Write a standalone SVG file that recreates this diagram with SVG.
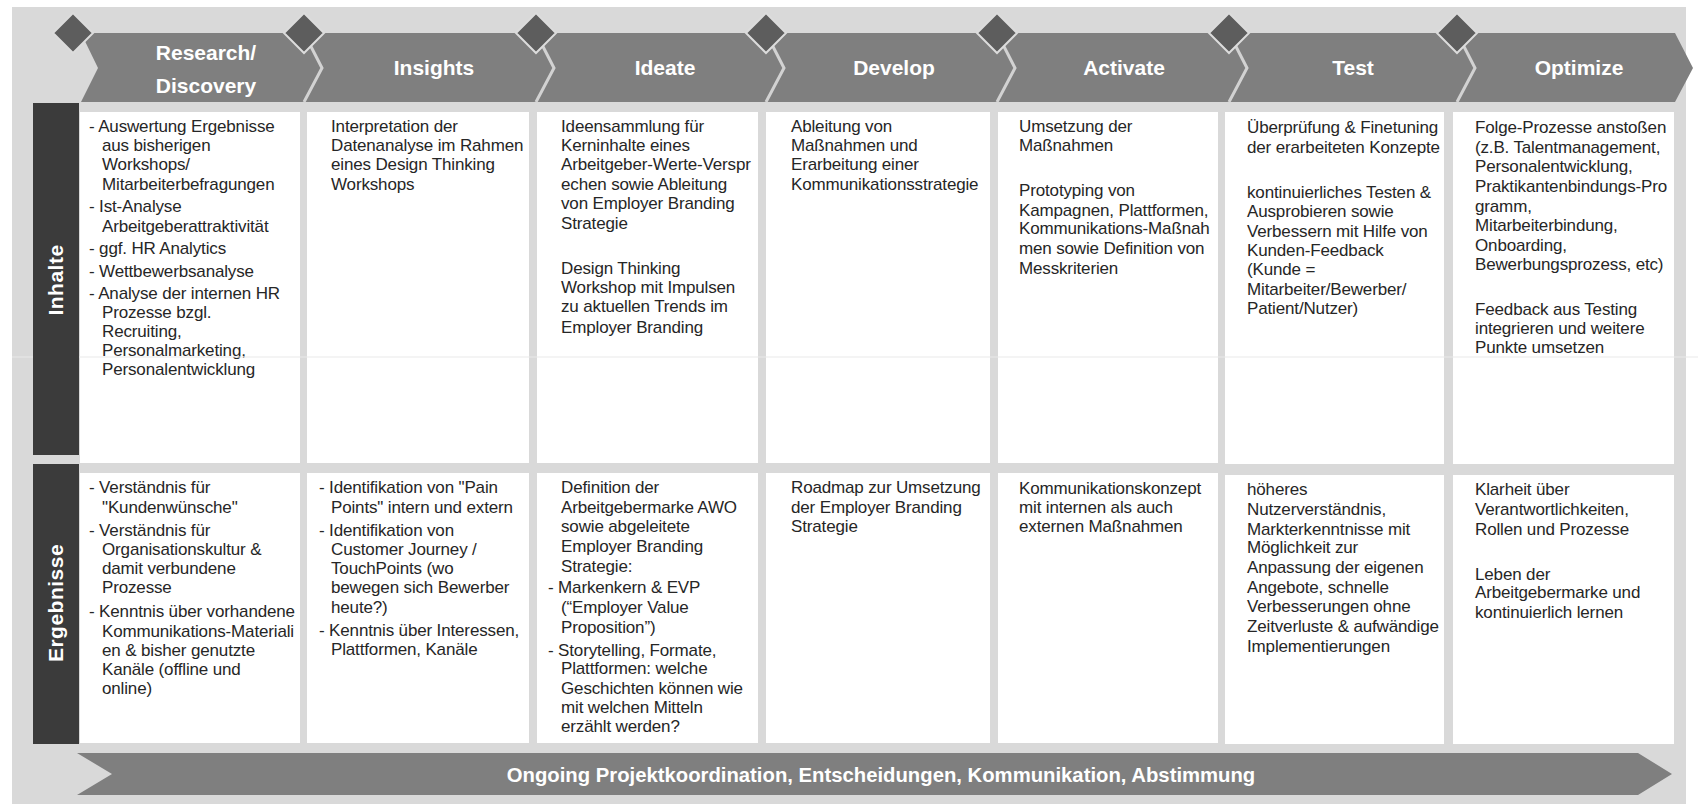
<svg xmlns="http://www.w3.org/2000/svg" width="1698" height="804" viewBox="0 0 1698 804">
<style>
.bg{fill:#d9d9d9}
.chev{fill:#7f7f7f}
.sep{fill:none;stroke:#d2d2d2;stroke-width:3;stroke-linejoin:miter}
.dia{fill:#5d5d5d;stroke:#dcdcdc;stroke-width:2}
.hd{font-family:"Liberation Sans",Arial,sans-serif;font-weight:bold;font-size:21px;fill:#ffffff;text-anchor:middle}
.lab{fill:#3b3b3b}
.labt{font-family:"Liberation Sans",Arial,sans-serif;font-weight:bold;font-size:21px;fill:#ffffff;text-anchor:middle;letter-spacing:0.5px}
.cell{fill:#ffffff}
.t{font-family:"Liberation Sans",Arial,sans-serif;font-size:17px;fill:#262626;letter-spacing:-0.15px}
.bar{fill:#7f7f7f}
.bart{font-family:"Liberation Sans",Arial,sans-serif;font-weight:bold;font-size:20.3px;fill:#ffffff;text-anchor:middle}
.faint{stroke:#e9e9e9;stroke-width:1}
</style>
<rect class="bg" x="12" y="7" width="1674" height="797"/>

<g id="phases">
  <g id="phase-research">
    <polygon class="chev" points="81,33 304,33 322,68 304,102 81,102 98,68"/>
    <text class="hd" x="206" y="60">Research/</text>
    <text class="hd" x="206" y="93">Discovery</text>
  </g>
  <g id="phase-insights">
    <polygon class="chev" points="304,33 536,33 554,68 536,102 304,102 322,68"/>
    <text class="hd" x="434" y="75">Insights</text>
  </g>
  <g id="phase-ideate">
    <polygon class="chev" points="536,33 766,33 784,68 766,102 536,102 554,68"/>
    <text class="hd" x="665" y="75">Ideate</text>
  </g>
  <g id="phase-develop">
    <polygon class="chev" points="766,33 997,33 1015,68 997,102 766,102 784,68"/>
    <text class="hd" x="894" y="75">Develop</text>
  </g>
  <g id="phase-activate">
    <polygon class="chev" points="997,33 1229,33 1247,68 1229,102 997,102 1015,68"/>
    <text class="hd" x="1124" y="75">Activate</text>
  </g>
  <g id="phase-test">
    <polygon class="chev" points="1229,33 1457,33 1475,68 1457,102 1229,102 1247,68"/>
    <text class="hd" x="1353" y="75">Test</text>
  </g>
  <g id="phase-optimize">
    <polygon class="chev" points="1457,33 1675,33 1693,68 1675,102 1457,102 1475,68"/>
    <text class="hd" x="1579" y="75">Optimize</text>
  </g>
</g>

<g id="connectors">
  <polyline class="sep" points="304,33 322,68 304,102"/>
  <polyline class="sep" points="536,33 554,68 536,102"/>
  <polyline class="sep" points="766,33 784,68 766,102"/>
  <polyline class="sep" points="997,33 1015,68 997,102"/>
  <polyline class="sep" points="1229,33 1247,68 1229,102"/>
  <polyline class="sep" points="1457,33 1475,68 1457,102"/>
</g>

<g id="milestones">
  <polygon id="ms1" class="dia" points="73,13 93,33 73,53 53,33"/>
  <polygon id="ms2" class="dia" points="304,13 324,33 304,53 284,33"/>
  <polygon id="ms3" class="dia" points="536,13 556,33 536,53 516,33"/>
  <polygon id="ms4" class="dia" points="766,13 786,33 766,53 746,33"/>
  <polygon id="ms5" class="dia" points="997,13 1017,33 997,53 977,33"/>
  <polygon id="ms6" class="dia" points="1229,13 1249,33 1229,53 1209,33"/>
  <polygon id="ms7" class="dia" points="1457,13 1477,33 1457,53 1437,33"/>
</g>

<g id="row-labels">
  <g id="label-inhalte">
    <rect class="lab" x="33" y="103" width="46" height="352"/>
    <text class="labt" transform="translate(63,280) rotate(-90)">Inhalte</text>
  </g>
  <g id="label-ergebnisse">
    <rect class="lab" x="33" y="464" width="46" height="280"/>
    <text class="labt" transform="translate(63,603) rotate(-90)">Ergebnisse</text>
  </g>
</g>

<g id="inhalte-cells">
  <g id="i1">
    <rect class="cell" x="80" y="112" width="220" height="351"/>
    <text class="t">
      <tspan x="89" y="132">- Auswertung Ergebnisse</tspan>
      <tspan x="102" y="151">aus bisherigen</tspan>
      <tspan x="102" y="170">Workshops/</tspan>
      <tspan x="102" y="190">Mitarbeiterbefragungen</tspan>
      <tspan x="89" y="212">- Ist-Analyse</tspan>
      <tspan x="102" y="232">Arbeitgeberattraktivität</tspan>
      <tspan x="89" y="254">- ggf. HR Analytics</tspan>
      <tspan x="89" y="277">- Wettbewerbsanalyse</tspan>
      <tspan x="89" y="299">- Analyse der internen HR</tspan>
      <tspan x="102" y="318">Prozesse bzgl.</tspan>
      <tspan x="102" y="337">Recruiting,</tspan>
      <tspan x="102" y="356">Personalmarketing,</tspan>
      <tspan x="102" y="375">Personalentwicklung</tspan>
    </text>
  </g>
  <g id="i2">
    <rect class="cell" x="307" y="112" width="222" height="351"/>
    <text class="t">
      <tspan x="331" y="132">Interpretation der</tspan>
      <tspan x="331" y="151">Datenanalyse im Rahmen</tspan>
      <tspan x="331" y="170">eines Design Thinking</tspan>
      <tspan x="331" y="190">Workshops</tspan>
    </text>
  </g>
  <g id="i3">
    <rect class="cell" x="537" y="112" width="221" height="351"/>
    <text class="t">
      <tspan x="561" y="132">Ideensammlung für</tspan>
      <tspan x="561" y="151">Kerninhalte eines</tspan>
      <tspan x="561" y="170">Arbeitgeber-Werte-Verspr</tspan>
      <tspan x="561" y="190">echen sowie Ableitung</tspan>
      <tspan x="561" y="209">von Employer Branding</tspan>
      <tspan x="561" y="229">Strategie</tspan>
      <tspan x="561" y="274">Design Thinking</tspan>
      <tspan x="561" y="293">Workshop mit Impulsen</tspan>
      <tspan x="561" y="312">zu aktuellen Trends im</tspan>
      <tspan x="561" y="333">Employer Branding</tspan>
    </text>
  </g>
  <g id="i4">
    <rect class="cell" x="766" y="112" width="224" height="351"/>
    <text class="t">
      <tspan x="791" y="132">Ableitung von</tspan>
      <tspan x="791" y="151">Maßnahmen und</tspan>
      <tspan x="791" y="170">Erarbeitung einer</tspan>
      <tspan x="791" y="190">Kommunikationsstrategie</tspan>
    </text>
  </g>
  <g id="i5">
    <rect class="cell" x="998" y="112" width="220" height="351"/>
    <text class="t">
      <tspan x="1019" y="132">Umsetzung der</tspan>
      <tspan x="1019" y="151">Maßnahmen</tspan>
      <tspan x="1019" y="196">Prototyping von</tspan>
      <tspan x="1019" y="216">Kampagnen, Plattformen,</tspan>
      <tspan x="1019" y="234">Kommunikations-Maßnah</tspan>
      <tspan x="1019" y="254">men sowie Definition von</tspan>
      <tspan x="1019" y="274">Messkriterien</tspan>
    </text>
  </g>
  <g id="i6">
    <rect class="cell" x="1225" y="112" width="219" height="352"/>
    <text class="t">
      <tspan x="1247" y="133">Überprüfung &amp; Finetuning</tspan>
      <tspan x="1247" y="153">der erarbeiteten Konzepte</tspan>
      <tspan x="1247" y="198">kontinuierliches Testen &amp;</tspan>
      <tspan x="1247" y="217">Ausprobieren sowie</tspan>
      <tspan x="1247" y="237">Verbessern mit Hilfe von</tspan>
      <tspan x="1247" y="256">Kunden-Feedback</tspan>
      <tspan x="1247" y="275">(Kunde =</tspan>
      <tspan x="1247" y="295">Mitarbeiter/Bewerber/</tspan>
      <tspan x="1247" y="314">Patient/Nutzer)</tspan>
    </text>
  </g>
  <g id="i7">
    <rect class="cell" x="1453" y="112" width="221" height="352"/>
    <text class="t">
      <tspan x="1475" y="133">Folge-Prozesse anstoßen</tspan>
      <tspan x="1475" y="153">(z.B. Talentmanagement,</tspan>
      <tspan x="1475" y="172">Personalentwicklung,</tspan>
      <tspan x="1475" y="192">Praktikantenbindungs-Pro</tspan>
      <tspan x="1475" y="212">gramm,</tspan>
      <tspan x="1475" y="231">Mitarbeiterbindung,</tspan>
      <tspan x="1475" y="251">Onboarding,</tspan>
      <tspan x="1475" y="270">Bewerbungsprozess, etc)</tspan>
      <tspan x="1475" y="315">Feedback aus Testing</tspan>
      <tspan x="1475" y="334">integrieren und weitere</tspan>
      <tspan x="1475" y="353">Punkte umsetzen</tspan>
    </text>
  </g>
</g>

<g id="ergebnisse-cells">
  <g id="e1">
    <rect class="cell" x="80" y="473" width="220" height="270"/>
    <text class="t">
      <tspan x="89" y="493">- Verständnis für</tspan>
      <tspan x="102" y="513">"Kundenwünsche"</tspan>
      <tspan x="89" y="536">- Verständnis für</tspan>
      <tspan x="102" y="555">Organisationskultur &amp;</tspan>
      <tspan x="102" y="574">damit verbundene</tspan>
      <tspan x="102" y="593">Prozesse</tspan>
      <tspan x="89" y="617">- Kenntnis über vorhandene</tspan>
      <tspan x="102" y="637">Kommunikations-Materiali</tspan>
      <tspan x="102" y="656">en &amp; bisher genutzte</tspan>
      <tspan x="102" y="675">Kanäle (offline und</tspan>
      <tspan x="102" y="694">online)</tspan>
    </text>
  </g>
  <g id="e2">
    <rect class="cell" x="307" y="473" width="222" height="270"/>
    <text class="t">
      <tspan x="319" y="493">- Identifikation von "Pain</tspan>
      <tspan x="331" y="513">Points" intern und extern</tspan>
      <tspan x="319" y="536">- Identifikation von</tspan>
      <tspan x="331" y="555">Customer Journey /</tspan>
      <tspan x="331" y="574">TouchPoints (wo</tspan>
      <tspan x="331" y="593">bewegen sich Bewerber</tspan>
      <tspan x="331" y="613">heute?)</tspan>
      <tspan x="319" y="636">- Kenntnis über Interessen,</tspan>
      <tspan x="331" y="655">Plattformen, Kanäle</tspan>
    </text>
  </g>
  <g id="e3">
    <rect class="cell" x="537" y="473" width="221" height="270"/>
    <text class="t">
      <tspan x="561" y="493">Definition der</tspan>
      <tspan x="561" y="513">Arbeitgebermarke AWO</tspan>
      <tspan x="561" y="532">sowie abgeleitete</tspan>
      <tspan x="561" y="552">Employer Branding</tspan>
      <tspan x="561" y="572">Strategie:</tspan>
      <tspan x="548" y="593">- Markenkern &amp; EVP</tspan>
      <tspan x="561" y="613">(“Employer Value</tspan>
      <tspan x="561" y="633">Proposition”)</tspan>
      <tspan x="548" y="656">- Storytelling, Formate,</tspan>
      <tspan x="561" y="674">Plattformen: welche</tspan>
      <tspan x="561" y="694">Geschichten können wie</tspan>
      <tspan x="561" y="713">mit welchen Mitteln</tspan>
      <tspan x="561" y="732">erzählt werden?</tspan>
    </text>
  </g>
  <g id="e4">
    <rect class="cell" x="766" y="473" width="224" height="270"/>
    <text class="t">
      <tspan x="791" y="493">Roadmap zur Umsetzung</tspan>
      <tspan x="791" y="513">der Employer Branding</tspan>
      <tspan x="791" y="532">Strategie</tspan>
    </text>
  </g>
  <g id="e5">
    <rect class="cell" x="998" y="473" width="220" height="270"/>
    <text class="t">
      <tspan x="1019" y="494">Kommunikationskonzept</tspan>
      <tspan x="1019" y="513">mit internen als auch</tspan>
      <tspan x="1019" y="532">externen Maßnahmen</tspan>
    </text>
  </g>
  <g id="e6">
    <rect class="cell" x="1225" y="475" width="219" height="269"/>
    <text class="t">
      <tspan x="1247" y="495">höheres</tspan>
      <tspan x="1247" y="515">Nutzerverständnis,</tspan>
      <tspan x="1247" y="535">Markterkenntnisse mit</tspan>
      <tspan x="1247" y="553">Möglichkeit zur</tspan>
      <tspan x="1247" y="573">Anpassung der eigenen</tspan>
      <tspan x="1247" y="593">Angebote, schnelle</tspan>
      <tspan x="1247" y="612">Verbesserungen ohne</tspan>
      <tspan x="1247" y="632">Zeitverluste &amp; aufwändige</tspan>
      <tspan x="1247" y="652">Implementierungen</tspan>
    </text>
  </g>
  <g id="e7">
    <rect class="cell" x="1453" y="475" width="221" height="269"/>
    <text class="t">
      <tspan x="1475" y="495">Klarheit über</tspan>
      <tspan x="1475" y="515">Verantwortlichkeiten,</tspan>
      <tspan x="1475" y="535">Rollen und Prozesse</tspan>
      <tspan x="1475" y="580">Leben der</tspan>
      <tspan x="1475" y="598">Arbeitgebermarke und</tspan>
      <tspan x="1475" y="618">kontinuierlich lernen</tspan>
    </text>
  </g>
</g>

<line class="faint" x1="12" y1="357" x2="33" y2="357"/>
<line class="faint" x1="79" y1="357" x2="1698" y2="357"/>

<g id="ongoing-bar">
  <polygon class="bar" points="77,753 1638,753 1672,774 1638,795 77,795 112,774"/>
  <text class="bart" x="881" y="782">Ongoing Projektkoordination, Entscheidungen, Kommunikation, Abstimmung</text>
</g>
</svg>
